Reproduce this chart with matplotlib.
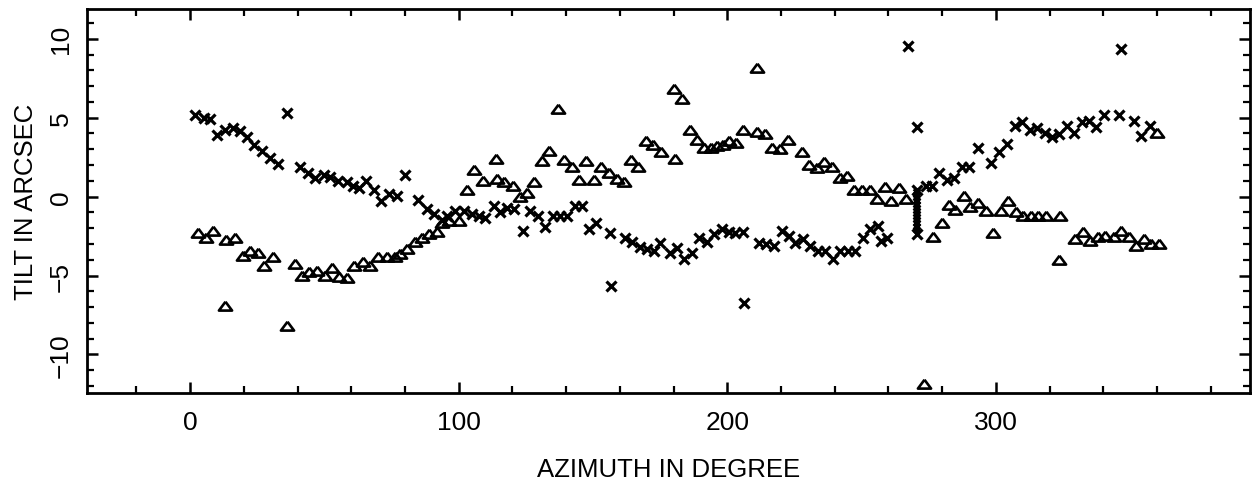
import matplotlib
matplotlib.use("Agg")
import matplotlib.pyplot as plt
from matplotlib.ticker import MultipleLocator

plt.rcParams['font.family'] = ['Liberation Sans', 'DejaVu Sans']

# Series 1: crosses (azimuth in degree, tilt in arcsec)
cross_az = [1.9, 5.0, 7.4, 9.9, 13.0, 16.1, 18.4, 21.1, 23.8, 26.7, 29.8, 32.7, 36.0,
            41.0, 43.8, 46.6, 49.7, 52.1, 55.2, 58.3, 60.8, 62.7, 65.5, 68.3, 71.0,
            74.0, 77.0, 80.1, 85.0, 88.1, 90.9, 93.7, 95.8, 98.7, 101.8, 104.9, 107.4,
            109.9, 113.0, 115.5, 118.0, 120.7, 123.8, 126.6, 129.4, 132.2, 135.1,
            137.6, 140.3, 143.4, 145.9, 148.4, 151.2, 156.4, 156.8, 162.0, 164.5,
            167.6, 170.1, 172.6, 175.0, 178.5, 181.3, 183.8, 186.9, 189.3, 192.5,
            195.2, 198.0, 200.5, 203.0, 205.8, 206.4, 211.7, 214.5, 217.3, 220.4,
            222.9, 225.3, 228.2, 230.9, 233.8, 236.5, 239.3, 242.1, 244.8, 247.7,
            250.5, 253.3, 256.0, 257.3, 259.5, 267.2, 270.5, 270.5, 270.5, 273.9,
            276.4, 279.0, 281.8, 284.3, 287.4, 289.9, 293.3, 298.2, 301.3, 304.2,
            307.3, 309.7, 312.6, 315.3, 318.4, 320.9, 323.4, 326.3, 329.0, 332.2,
            334.6, 337.1, 340.2, 345.8, 346.6, 351.4, 354.1, 357.2]
cross_tilt = [5.2, 5.0, 4.9, 3.9, 4.25, 4.35, 4.15, 3.8, 3.3, 2.9, 2.45, 2.05, 5.3,
              1.85, 1.5, 1.15, 1.4, 1.25, 1.0, 0.9, 0.7, 0.55, 1.0, 0.4, -0.25,
              0.15, 0.05, 1.4, -0.2, -0.8, -1.1, -1.45, -1.2, -0.9, -0.9, -1.1, -1.2,
              -1.35, -0.6, -0.95, -0.7, -0.8, -2.2, -0.9, -1.25, -1.9, -1.25,
              -1.25, -1.25, -0.6, -0.6, -2.05, -1.65, -2.3, -5.65, -2.65, -2.9,
              -3.2, -3.35, -3.45, -2.95, -3.6, -3.25, -3.95, -3.55, -2.6, -2.9,
              -2.4, -2.05, -2.25, -2.3, -2.25, -6.75, -2.95, -3.0, -3.1, -2.2,
              -2.5, -2.95, -2.7, -3.1, -3.45, -3.45, -3.95, -3.45, -3.45, -3.45,
              -2.6, -2.05, -1.85, -2.8, -2.65, 9.55, 4.4, -2.35, 0.45, 0.7,
              0.65, 1.5, 1.05, 1.2, 1.85, 1.85, 3.05, 2.1, 2.8, 3.35,
              4.45, 4.7, 4.25, 4.35, 4.05, 3.75, 3.95, 4.45, 4.05, 4.7,
              4.8, 4.4, 5.2, 5.15, 9.35, 4.8, 3.85, 4.5]

# Stacked readings at one azimuth (the dense vertical bar)
bar_az = [270.5] * 13
bar_tilt = [0.3, 0.1, -0.1, -0.3, -0.5, -0.7, -0.9, -1.1, -1.3, -1.5, -1.7, -1.9, -2.1]

# Series 2: triangles
tri_az = [3.1, 6.0, 8.7, 13.0, 13.4, 16.8, 19.6, 22.3, 25.1, 27.7, 30.7, 36.0, 39.1,
          41.6, 44.4, 47.4, 50.3, 53.0, 55.6, 58.3, 61.1, 64.3, 67.0, 70.1, 73.2,
          76.3, 78.2, 80.7, 83.6, 86.3, 89.1, 92.1, 93.7, 96.5, 100.3, 103.0, 105.8,
          109.0, 114.0, 114.2, 116.9, 120.2, 122.9, 125.4, 128.1, 131.0, 133.8,
          136.9, 139.3, 142.1, 144.9, 147.5, 150.2, 153.0, 155.8, 158.9, 161.6,
          164.1, 166.9, 169.6, 172.5, 175.3, 180.3, 180.6, 183.1, 186.2, 188.9,
          191.4, 193.9, 196.1, 198.4, 200.8, 203.4, 205.8, 211.0, 211.0, 214.2,
          216.7, 219.7, 222.6, 227.8, 230.5, 233.3, 236.0, 239.0, 242.0, 244.6,
          247.2, 250.2, 253.0, 255.7, 258.8, 261.1, 263.8, 266.5, 273.4, 276.5,
          279.9, 282.4, 284.9, 288.0, 290.5, 293.3, 296.4, 298.9, 301.8, 304.5,
          307.4, 310.2, 313.0, 315.7, 318.5, 323.4, 324.0, 329.3, 332.5, 335.2,
          338.0, 340.8, 343.9, 346.6, 349.5, 352.0, 355.1, 357.8, 360.0, 360.6]
tri_tilt = [-2.3, -2.6, -2.2, -6.9, -2.75, -2.6, -3.75, -3.45, -3.55, -4.4, -3.85, -8.2, -4.3,
            -5.0, -4.75, -4.7, -5.0, -4.5, -5.1, -5.15, -4.4, -4.15, -4.4, -3.8, -3.85,
            -3.85, -3.65, -3.35, -2.85, -2.6, -2.4, -2.25, -1.7, -1.55, -1.55, 0.45, 1.7,
            1.0, 2.4, 1.1, 0.9, 0.65, -0.05, 0.25, 0.9, 2.25, 2.9,
            5.55, 2.35, 1.85, 1.05, 2.25, 1.05, 1.9, 1.5, 1.1, 0.9,
            2.35, 1.9, 3.5, 3.3, 2.8, 6.8, 2.4, 6.2, 4.25, 3.6,
            3.1, 3.05, 3.2, 3.3, 3.5, 3.4, 4.25, 8.15, 4.1, 3.95,
            3.1, 3.0, 3.6, 2.8, 2.0, 1.8, 2.2, 1.9, 1.15, 1.3,
            0.45, 0.45, 0.45, -0.15, 0.6, -0.3, 0.55, -0.15, -11.9, -2.55,
            -1.65, -0.5, -0.85, 0.05, -0.65, -0.4, -0.9, -2.3, -0.9, -0.3,
            -1.0, -1.25, -1.25, -1.25, -1.25, -4.0, -1.25, -2.7, -2.25, -2.8,
            -2.55, -2.5, -2.55, -2.2, -2.55, -3.15, -2.7, -3.0, 4.0, -3.0]

x_ticks = [0, 100, 200, 300]
y_ticks = [-10, -5, 0, 5, 10]

fig = plt.figure(figsize=(12.53, 4.89), dpi=100)
ax = fig.add_axes([0.0694, 0.194, 0.9286, 0.786])

tri_marker = [(0, 0.72), (-1, -0.62), (1, -0.62), (0, 0.72)]

ax.plot(tri_az, tri_tilt, linestyle='none', marker=tri_marker, ms=9.5,
        mfc='none', mec='black', mew=1.9)
ax.plot(cross_az, cross_tilt, linestyle='none', marker='x', ms=7, mec='black', mew=2.3)
ax.plot(bar_az, bar_tilt, linestyle='none', marker='x', ms=4.5, mec='black', mew=2.6)

ax.set_xlim(-38.4, 394.8)
ax.set_ylim(-12.45, 11.9)

ax.set_xticks(x_ticks)
ax.set_yticks(y_ticks)
ax.xaxis.set_minor_locator(MultipleLocator(20))
ax.yaxis.set_minor_locator(MultipleLocator(1))
ax.set_yticklabels([f"\u2212{abs(v)}" if v < 0 else str(v) for v in y_ticks],
                   rotation=90, va='center')

ax.tick_params(which='both', direction='in', top=True, right=True, color='black')
ax.tick_params(which='major', length=8, width=1.8, labelsize=19)
ax.tick_params(axis='x', which='major', pad=12)
ax.tick_params(axis='y', which='major', pad=10)
ax.tick_params(which='minor', length=5, width=1.6)

for s in ax.spines.values():
    s.set_linewidth(2.0)

ax.set_xlabel("AZIMUTH IN DEGREE", fontsize=18.5, labelpad=17)
ax.set_ylabel("TILT IN ARCSEC", fontsize=18.5, labelpad=8)

fig.savefig("out.png", dpi=100)
